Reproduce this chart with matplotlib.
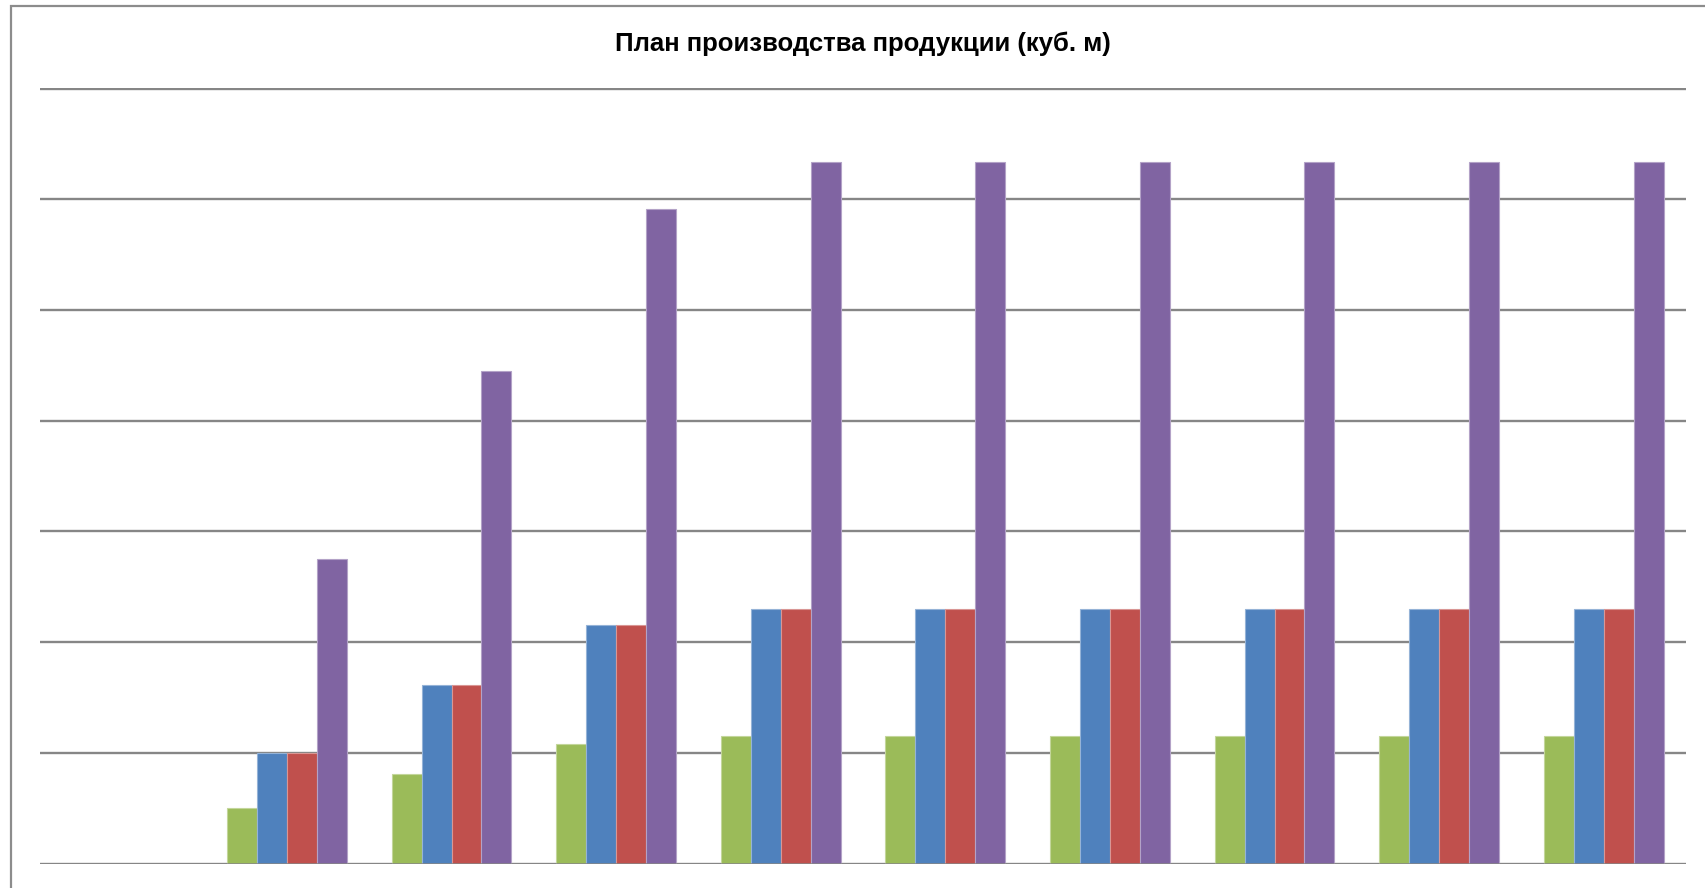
import matplotlib.pyplot as plt
from matplotlib.patches import Rectangle
import numpy as np

plt.rcParams["font.family"] = ["Liberation Sans", "DejaVu Sans"]

# категории (подписи на оси скрыты, как в исходнике)
years = ["2012", "2013", "2014", "2015", "2016", "2017", "2018", "2019", "2020", "2021"]

series_green = [0, 100, 162, 215, 230, 230, 230, 230, 230, 230]
series_blue = [0, 200, 322, 430, 460, 460, 460, 460, 460, 460]
series_red = [0, 200, 322, 430, 460, 460, 460, 460, 460, 460]
series_purple = [0, 550, 890, 1182, 1268, 1268, 1268, 1268, 1268, 1268]

colors = ["#9BBB59", "#4F81BD", "#C0504D", "#8064A2"]
edges = ["#C3D69B", "#95B3D7", "#D99694", "#B3A2C7"]

W, H = 1706, 888
fig = plt.figure(figsize=(W / 100, H / 100), dpi=100)

# рамка диаграммы (обрезана справа и снизу)
fig.patches.append(Rectangle((11 / W, -0.1), 1.2, 1.1 - 6 / H,
                             transform=fig.transFigure, fill=False,
                             edgecolor="#8c8c8c", linewidth=1.6))

ax = fig.add_axes([40 / W, 1 - 863.5 / H, (1686 - 40) / W, (863.5 - 88.5) / H])

x = np.arange(len(years))
bw = 1 / 5.5
all_series = [series_green, series_blue, series_red, series_purple]
for k, vals in enumerate(all_series):
    ax.bar(x + (k - 1.5) * bw, vals, width=bw, color=colors[k],
           edgecolor=edges[k], linewidth=0.8, zorder=3)

ax.set_xlim(-0.5, len(years) - 0.5)
ax.set_ylim(0, 1400)
ax.set_yticks(np.arange(0, 1401, 200))
ax.set_xticks(x)
ax.set_xticklabels([])
ax.set_yticklabels([])
ax.tick_params(length=0)
ax.grid(axis="y", color="#868686", linewidth=1.7)
ax.set_axisbelow(True)
for s in ax.spines.values():
    s.set_visible(False)
ax.axhline(0, color="#868686", linewidth=1.8, zorder=4)

fig.text(863 / W, 1 - 44 / H, "План производства продукции (куб. м)",
         ha="center", va="center", fontsize=18.5, fontweight="bold")

fig.savefig("out.png", dpi=100)
